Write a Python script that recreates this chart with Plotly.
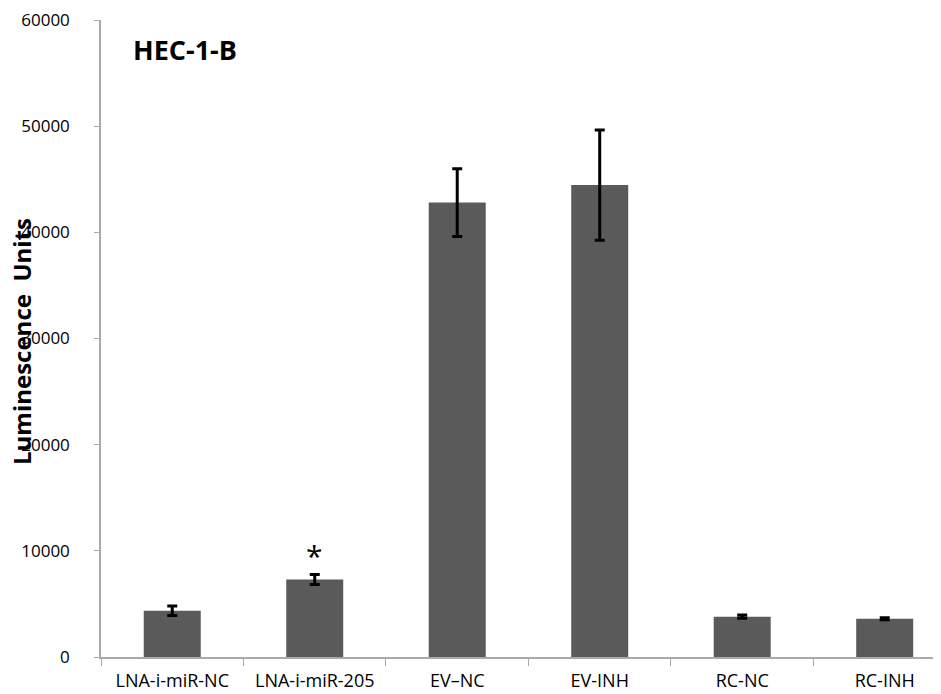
import plotly.graph_objects as go

categories = ["LNA-i-miR-NC", "LNA-i-miR-205", "EV\u2013NC", "EV-INH", "RC-NC", "RC-INH"]
values = [4350, 7300, 42800, 44450, 3800, 3600]
errors = [450, 480, 3200, 5200, 150, 100]
y_ticks = [0, 10000, 20000, 30000, 40000, 50000, 60000]
y_tick_labels = ["0", "10000", "20000", "30000", "40000", "50000", "60000"]

# figure is offset by the page's 8px body margin
W, H = 925, 686
L, T, B = 93, 12, 37
PW = W - L
PH = H - T - B

fig = go.Figure()
fig.add_trace(go.Bar(
    x=categories, y=values,
    width=0.4,
    marker=dict(color="#5a5a5a", line=dict(width=0)),
    error_y=dict(type="data", array=errors, visible=True, color="black", thickness=3, width=5),
))

fig.add_annotation(x=categories[1], y=values[1] + errors[1], yshift=-4, text="*",
                   showarrow=False, yanchor="bottom",
                   font=dict(size=30, color="black", family="Open Sans"))
fig.add_annotation(xref="paper", yref="paper", x=(177 - L) / PW, y=(T + PH - 42) / PH,
                   text="<b>HEC-1-B</b>", showarrow=False, xanchor="center", yanchor="middle",
                   font=dict(size=27, color="black", family="Open Sans"))
fig.add_annotation(xref="paper", yref="paper", x=(13 - L) / PW, y=(T + PH - 334) / PH,
                   text="<b>Luminescence  Units</b>", showarrow=False, textangle=-90,
                   xanchor="center", yanchor="middle", borderpad=0,
                   font=dict(size=24, color="black", family="Open Sans"))

fig.update_layout(
    width=W, height=H,
    margin=dict(l=L, r=0, t=T, b=B, autoexpand=False),
    paper_bgcolor="white", plot_bgcolor="white",
    showlegend=False,
    font=dict(family="Open Sans", size=17, color="black"),
    xaxis=dict(range=[-0.5, 5.339], showline=True, linecolor="#aaaaaa", linewidth=1.5,
               ticks="outside", tickson="boundaries", ticklen=7, tickcolor="#aaaaaa",
               showgrid=False, tickfont=dict(size=18), ticklabelstandoff=7,
               ticklabeloverflow="allow"),
    yaxis=dict(range=[0, 60000], tickvals=y_ticks, ticktext=y_tick_labels, showline=True,
               linecolor="#aaaaaa", linewidth=1.5, ticklabelstandoff=21,
               ticks="outside", ticklen=5, tickcolor="#aaaaaa", showgrid=False, zeroline=False,
               tickfont=dict(size=17), ticklabeloverflow="allow"),
)

fig.write_html("out.html")
